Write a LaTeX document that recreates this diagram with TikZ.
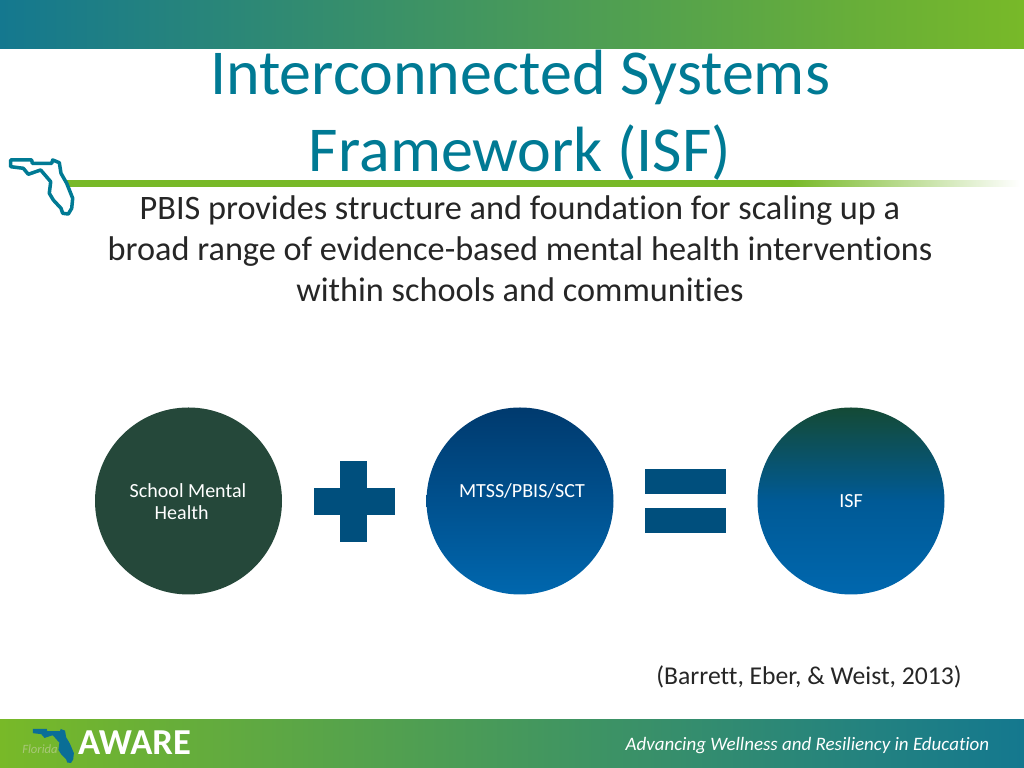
\documentclass[tikz,border=0pt]{standalone}
\usepackage{fontspec}
\setmainfont[Ligatures=NoCommon]{Carlito}
\definecolor{barteal}{HTML}{14788F}
\definecolor{bargreen}{HTML}{78B928}
\definecolor{titleteal}{HTML}{007A94}
\definecolor{bodyink}{HTML}{262626}
\definecolor{schoolgreen}{HTML}{25483A}
\definecolor{signblue}{HTML}{004F7D}
\definecolor{logoblue}{HTML}{0A6E96}
\definecolor{logotext}{HTML}{A8C878}
\definecolor{mtsstop}{HTML}{003A6E}
\definecolor{mtssbottom}{HTML}{0067AE}
\definecolor{isftop}{HTML}{144A35}
\definecolor{isfmid}{HTML}{005A96}
\pgfdeclarehorizontalshading{rulefade}{100bp}{color(0bp)=(bargreen); color(63bp)=(bargreen); color(75bp)=(white); color(100bp)=(white)}
\newcommand{\floridapath}{(0.107, 6.08) -- (0.317, 6.08) -- (0.323, 6.047) -- (0.517, 6.047) -- (0.527, 6.08) -- (0.593, 6.053) -- (0.61, 5.947) -- (0.667, 5.847) -- (0.727, 5.697) -- (0.717, 5.597) -- (0.683, 5.54) -- (0.627, 5.547) -- (0.61, 5.597) -- (0.533, 5.68) -- (0.493, 5.747) -- (0.507, 5.863) -- (0.407, 5.98) -- (0.283, 5.937) -- (0.233, 5.997) -- (0.107, 6.013) -- cycle}
\tikzset{
  roundel/.style={circle, minimum size=1.87cm, inner sep=0pt},
  roundeltext/.style={white, font=\fontsize{5.7pt}{6.3pt}\selectfont, inner sep=0pt},
  signbar/.style={fill=signblue}
}
\begin{document}
\begin{tikzpicture}

\useasboundingbox (0, 0) rectangle (10.24, 7.68);
\fill[white] (0, 0) rectangle (10.24, 7.68);

\shade[left color=barteal, right color=bargreen] (0, 7.195) rectangle (10.24, 7.68);
\shade[left color=bargreen, right color=barteal] (0, 0) rectangle (10.24, 0.485);

\shade[shading=rulefade] (0.66, 5.81) rectangle (10.2, 5.87);

\draw[titleteal, line width=1pt, fill=white, line join=round] \floridapath;

\node[titleteal, font=\fontsize{18.2pt}{21.9pt}\selectfont, align=center] (title) at (5.2, 6.53) {Interconnected Systems\\Framework (ISF)};
\node[bodyink, font=\fontsize{9.75pt}{11.67pt}\selectfont, align=center] (lead) at (5.2, 5.19) {PBIS provides structure and foundation for scaling up a\\broad range of evidence-based mental health interventions\\within schools and communities};

\node[roundel, fill=schoolgreen] (school) at (1.885, 2.67) {};
\node[roundel, top color=mtsstop, bottom color=mtssbottom] (mtss) at (5.2, 2.67) {};
\node[roundel, top color=isftop, bottom color=mtssbottom, middle color=isfmid] (isf) at (8.51, 2.67) {};

\node[roundeltext] (schoolone) at (1.88, 2.77) {School Mental};
\node[roundeltext, right] (schooltwo) at (1.54, 2.55) {Health};
\node[roundeltext] (mtsslabel) at (5.22, 2.77) {MTSS/PBIS/SCT};
\node[roundeltext] (isflabel) at (8.51, 2.67) {ISF};

\fill[signbar] (3.14, 2.53) rectangle (3.95, 2.80);
\fill[signbar] (3.40, 2.26) rectangle (3.67, 3.07);

\fill[signbar] (6.45, 2.74) rectangle (7.26, 2.99);
\fill[signbar] (6.45, 2.35) rectangle (7.26, 2.60);

\node[bodyink, font=\fontsize{7.3pt}{8.5pt}\selectfont] (cite) at (8.09, 0.91) {(Barrett, Eber, \& Weist, 2013)};

\node[logotext, font=\fontsize{3.6pt}{4pt}\selectfont\itshape, inner sep=0pt] (logoname) at (0.40, 0.19) {Florida};
\begin{scope}[shift={(0.259, -3.44)}, xscale=0.66, yscale=0.63]
\fill[logoblue] \floridapath;
\end{scope}

\node[white, font=\fontsize{10.4pt}{12pt}\selectfont\bfseries, inner sep=0pt] (aware) at (1.345, 0.25) {AWARE};
\node[white, font=\fontsize{5.4pt}{6.6pt}\selectfont\itshape, anchor=east, inner sep=0pt] (motto) at (9.9, 0.225) {Advancing Wellness and Resiliency in Education};

\end{tikzpicture}
\end{document}
